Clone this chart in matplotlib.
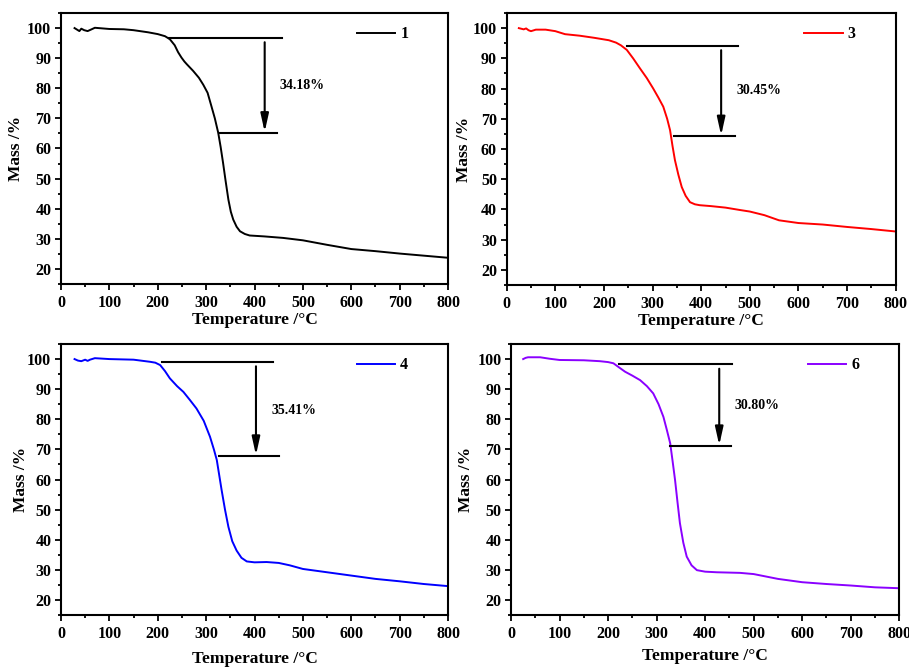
import matplotlib.pyplot as plt
from matplotlib.ticker import MultipleLocator

plt.rcParams['font.family'] = ['Liberation Serif', 'DejaVu Serif']
plt.rcParams['font.weight'] = 'bold'

# TGA curves (temperature in C, mass in %)
temp_1 = [28, 33, 38, 42, 48, 55, 62, 70, 85, 100, 130, 150, 180, 200, 215, 225, 235, 242, 249, 255,
          260, 273, 285, 294, 303, 311, 318, 325, 330, 335, 340, 346, 351, 356, 363, 370, 380, 390,
          420, 459, 500, 550, 600, 650, 700, 750, 800]
mass_1 = [100, 99.5, 99.0, 99.8, 99.3, 99.0, 99.5, 100.1, 99.9, 99.7, 99.6, 99.3, 98.6, 98.0, 97.3,
          96.3, 94.3, 92.0, 90.2, 88.9, 88.0, 85.8, 83.5, 81.2, 78.5, 74.0, 70.0, 65.2, 60.5, 55.2,
          49.5, 43.0, 39.0, 36.4, 34.0, 32.5, 31.6, 31.1, 30.8, 30.3, 29.5, 28.0, 26.6, 25.9, 25.1,
          24.4, 23.7]

temp_3 = [25, 30, 35, 40, 45, 50, 60, 80, 100, 120, 150, 180, 210, 225, 235, 247, 260, 274, 288, 301,
          312, 322, 330, 336, 341, 346, 353, 360, 368, 377, 387, 397, 420, 450, 480, 500, 530, 560,
          600, 650, 700, 750, 800]
mass_3 = [100, 99.8, 99.6, 99.9, 99.3, 99.0, 99.5, 99.5, 99.0, 98.0, 97.5, 96.8, 96.0, 95.2, 94.3,
          92.8, 90.0, 86.7, 83.5, 80.1, 77.0, 74.0, 70.0, 66.2, 61.0, 56.3, 51.5, 47.4, 44.5, 42.4,
          41.7, 41.4, 41.1, 40.6, 39.8, 39.3, 38.1, 36.4, 35.5, 35.0, 34.2, 33.5, 32.7]

temp_4 = [28, 35, 42, 50, 55, 60, 70, 100, 150, 184, 195, 205, 215, 225, 240, 253, 266, 280, 295, 308,
          316, 322, 327, 332, 339, 346, 354, 363, 373, 384, 400, 425, 450, 473, 500, 550, 600, 650,
          700, 750, 800]
mass_4 = [100, 99.5, 99.3, 99.8, 99.4, 99.8, 100.3, 100.0, 99.8, 99.1, 98.8, 98.0, 96.0, 93.6, 91.0,
          89.1, 86.5, 83.6, 79.5, 74.2, 70.0, 66.5, 61.5, 56.5, 50.0, 44.3, 39.5, 36.4, 34.0, 32.8,
          32.5, 32.6, 32.3, 31.5, 30.3, 29.2, 28.1, 27.0, 26.2, 25.3, 24.6]

temp_6 = [25, 30, 35, 60, 80, 100, 150, 183, 200, 211, 222, 235, 250, 266, 280, 293, 304, 314, 321,
          328, 333, 338, 343, 348, 355, 362, 372, 383, 400, 424, 472, 500, 550, 600, 650, 700, 750, 800]
mass_6 = [100, 100.4, 100.6, 100.6, 100.1, 99.7, 99.6, 99.3, 99.0, 98.6, 97.3, 95.8, 94.5, 93.0, 91.0,
          88.6, 85.0, 80.8, 76.5, 72.0, 66.0, 59.8, 52.5, 45.5, 39.0, 34.4, 31.5, 29.9, 29.4, 29.2,
          29.0, 28.6, 27.0, 25.9, 25.3, 24.8, 24.2, 23.9]

sample_names = ['1', '3', '4', '6']
loss_labels = ['34.18%', '30.45%', '35.41%', '30.80%']

# step markers: (top x0, top x1, top y, low x0, low x1, low y, arrow x, text x, text y)
steps = [
    (223, 457, 96.8, 326, 447, 65.2, 421, 452, 80.9),
    (247, 476, 94.2, 345, 470, 64.2, 441, 473, 79.5),
    (208, 438, 99.1, 327, 451, 67.8, 403, 435, 82.9),
    (222, 455, 98.3, 327, 453, 71.1, 429, 460, 84.5),
]

curves = [(temp_1, mass_1), (temp_3, mass_3), (temp_4, mass_4), (temp_6, mass_6)]
colors = ['black', '#ff0000', '#0000ff', '#8a00ff']

# axes rectangles in figure fraction (left, bottom, width, height)
rects = [
    (0.0671, 0.5749, 0.4258, 0.4056),
    (0.5574, 0.5734, 0.4280, 0.4071),
    (0.0671, 0.0793, 0.4258, 0.4057),
    (0.5622, 0.0793, 0.4271, 0.4057),
]
ylabel_x = [-0.096, -0.089, -0.083, -0.095]
xlabel_y = [-0.102, -0.104, -0.133, -0.122]

fig = plt.figure(figsize=(9.09, 6.68), dpi=100)

for i in range(4):
    ax = fig.add_axes(rects[i])
    t, m = curves[i]
    ax.plot(t, m, color=colors[i], lw=1.4, label=sample_names[i])

    x0, x1, yt, lx0, lx1, yl, xa, xt, yt_txt = steps[i]
    ax.plot([x0, x1], [yt, yt], color='black', lw=1.5)
    ax.plot([lx0, lx1], [yl, yl], color='black', lw=1.5)
    ax.annotate('', xy=(xa, yl + 0.3), xytext=(xa, yt - 1.5),
                arrowprops=dict(arrowstyle='-|>,head_length=0.9,head_width=0.2',
                                color='black', lw=1.5, mutation_scale=12,
                                shrinkA=0, shrinkB=0))
    ax.text(xt, yt_txt, loss_labels[i], fontsize=10, fontweight='bold', va='center', ha='left')

    ax.set_xlim(0, 800)
    ax.set_ylim(15, 105)
    ax.xaxis.set_major_locator(MultipleLocator(100))
    ax.xaxis.set_minor_locator(MultipleLocator(50))
    ax.yaxis.set_minor_locator(MultipleLocator(5))
    ax.set_yticks(range(20, 101, 10))
    ax.tick_params(which='both', direction='out', top=False, right=False, labelsize=11.5, width=1.3)
    ax.tick_params(which='major', length=4.5)
    ax.tick_params(which='minor', length=2.5)
    ax.tick_params(axis='x', pad=3.5)
    ax.tick_params(axis='y', pad=2.5)
    for lab in ax.get_xticklabels() + ax.get_yticklabels():
        lab.set_fontweight('bold')
    for sp in ax.spines.values():
        sp.set_linewidth(1.5)

    ax.set_xlabel('Temperature /\u00b0C', fontsize=12.5, fontweight='bold')
    ax.set_ylabel('Mass /%', fontsize=12.5, fontweight='bold')
    ax.yaxis.set_label_coords(ylabel_x[i], 0.5)
    ax.xaxis.set_label_coords(0.5, xlabel_y[i])

    ax.legend(loc='center left', bbox_to_anchor=(0.765, 0.922), frameon=False,
              handlelength=2.4, handletextpad=0.3, borderpad=0, borderaxespad=0,
              prop={'size': 11.5, 'weight': 'bold'})

fig.savefig('out.png', dpi=100, facecolor='white')
